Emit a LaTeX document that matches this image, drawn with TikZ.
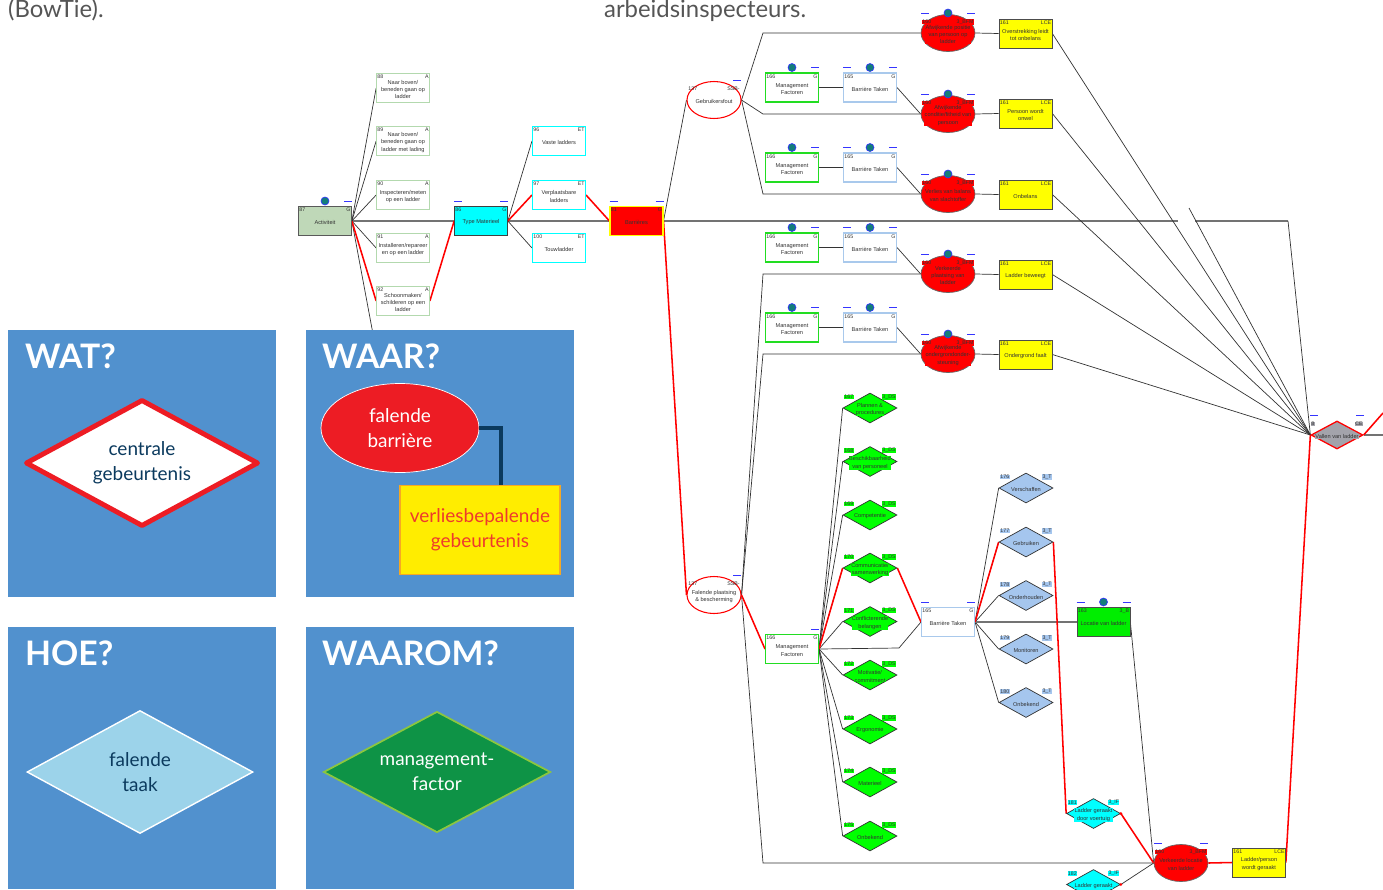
\documentclass[tikz,border=0pt]{standalone}
\usepackage{fontspec}
\setmainfont{Lato}
\newfontfamily\treefont{Liberation Sans}
\usetikzlibrary{shapes,positioning,calc,backgrounds}

\definecolor{panelblue}{HTML}{5191CE}
\definecolor{legendred}{HTML}{ED1C24}
\definecolor{legendnavy}{HTML}{0B3A5E}
\definecolor{legendyellow}{HTML}{FFED00}
\definecolor{legendorange}{HTML}{F6A823}
\definecolor{legendtext}{HTML}{EE3A2C}
\definecolor{taskblue}{HTML}{9CD3EA}
\definecolor{mfgreen}{HTML}{0E9346}
\definecolor{mfborder}{HTML}{8CC63F}
\definecolor{actgreen}{HTML}{BFD8B8}
\definecolor{subgreen}{HTML}{B3D9AE}
\definecolor{mfline}{HTML}{22DD22}
\definecolor{btblue}{HTML}{A9C9EC}
\definecolor{tdblue}{HTML}{A5C6EE}
\definecolor{dsgreen}{HTML}{00FF00}
\definecolor{locgreen}{HTML}{00EE00}
\definecolor{nodecyan}{HTML}{00FFFF}
\definecolor{nodered}{HTML}{FF0000}
\definecolor{nodeyellow}{HTML}{FFFF00}
\definecolor{dotteal}{HTML}{137D7A}
\definecolor{dashblue}{HTML}{3535FF}
\definecolor{cegray}{HTML}{A3A3AB}
\definecolor{treegray}{HTML}{333333}
\definecolor{toptext}{HTML}{555555}

% node with id tag, code tag and text
\newcommand{\btnode}[7]{%
  \node[#1] (#2) at (#3) {};
  \node[tagtext, fill=#7, anchor=west] at ($(#2.center)+(-26,-11)$) {#4};
  \node[tagtext, fill=#7, anchor=east] at ($(#2.center)+(26,-11)$) {#5};
  \node[bodytext, fill=#7] at ($(#2.center)+(0,1.5)$) {#6};
}
% blue marks above a node
\newcommand{\markL}[1]{\draw[markdash] ($(#1.center)+(-27,-20)$) -- ++(8,0);}
\newcommand{\markR}[1]{\draw[markdash] ($(#1.center)+(19,-20)$) -- ++(8,0);}
\newcommand{\markC}[1]{\node[markdot] at ($(#1.center)+(0,-20)$) {};}

\begin{document}
\begin{tikzpicture}[x=0.5mm, y=-0.5mm,
    treebox/.style={rectangle, minimum width=2.65cm, minimum height=1.45cm, inner sep=0pt, line width=1pt},
    actbox/.style={treebox, draw=black!65, fill=actgreen},
    subbox/.style={treebox, draw=subgreen, fill=white},
    typebox/.style={treebox, draw=black!75, fill=nodecyan},
    ladbox/.style={treebox, draw=nodecyan, fill=white, line width=1.5pt},
    barbox/.style={treebox, draw=nodeyellow, fill=nodered, line width=1.5pt},
    mfbox/.style={treebox, draw=mfline, fill=white, line width=1.5pt},
    btbox/.style={treebox, draw=btblue, fill=white, line width=1.5pt},
    lcebox/.style={treebox, draw=black!70, fill=nodeyellow},
    locbox/.style={treebox, draw=black!70, fill=locgreen},
    oval/.style={ellipse, minimum width=2.7cm, minimum height=1.85cm, inner sep=0pt, line width=1pt},
    bfm/.style={oval, draw=black!60, fill=nodered},
    ssb/.style={oval, draw=nodered, fill=white, line width=1.5pt},
    rhomb/.style={diamond, minimum width=2.7cm, minimum height=1.5cm, inner sep=0pt, draw=black!80, line width=1pt},
    mfdiam/.style={rhomb, fill=dsgreen},
    taskdiam/.style={rhomb, fill=tdblue},
    ifdiam/.style={rhomb, fill=nodecyan},
    cediam/.style={diamond, minimum width=2.6cm, minimum height=1.4cm, inner sep=0pt, draw=nodered, line width=1.8pt, fill=cegray},
    tagtext/.style={font=\treefont\fontsize{7.5}{8}\selectfont, text=treegray, inner sep=0.4pt},
    bodytext/.style={font=\treefont\fontsize{8}{10.3}\selectfont, text=treegray, align=center, inner sep=0.4pt},
    markdash/.style={draw=dashblue, line width=0.9pt},
    markdot/.style={circle, minimum size=4mm, inner sep=0pt, fill=dotteal, draw=blue!80, line width=0.9pt},
    connector/.style={draw=black!80, line width=1pt},
    spineline/.style={draw=black!55, line width=1.8pt},
    redlink/.style={draw=nodered, line width=2.2pt},
    reddot/.style={circle, fill=nodered, minimum size=1.6mm, inner sep=0pt},
    panel/.style={fill=panelblue},
    heading/.style={font=\bfseries\fontsize{48}{50}\selectfont, text=white, inner sep=0pt, anchor=base west},
    legendtxt/.style={font=\fontsize{27}{36}\selectfont, align=center, inner sep=0pt}
]
\useasboundingbox (0,0) rectangle (1383,889);

% Page text
\node[font=\fontsize{34}{36}\selectfont, text=toptext, anchor=base west, inner sep=0pt] (bowtie) at (8,17) {(BowTie).};
\node[font=\fontsize{34}{36}\selectfont, text=toptext, anchor=base west, inner sep=0pt] (inspect) at (604,17) {arbeidsinspecteurs.};

% Activity and equipment
\btnode{actbox}{act}{325,221}{87}{G}{Activiteit}{none}
\markC{act}\markR{act}
\btnode{subbox}{c88}{403,88}{88}{A}{Naar boven/\\beneden gaan op\\ladder}{none}
\btnode{subbox}{c89}{403,141}{89}{A}{Naar boven/\\beneden gaan op\\ladder met lading}{none}
\btnode{subbox}{c90}{403,195}{90}{A}{Inspecteren/meten\\op een ladder}{none}
\btnode{subbox}{c91}{403,248}{91}{A}{Installeren/repareer\\en op een ladder}{none}
\btnode{subbox}{c92}{403,301}{92}{A}{Schoonmaken/\\schilderen op een\\ladder}{none}

\btnode{typebox}{tm}{481,221}{86}{G}{Type Materieel}{none}
\markL{tm}\markR{tm}
\btnode{ladbox}{t96}{559,141}{96}{ET}{Vaste ladders}{none}
\btnode{ladbox}{t97}{559,195}{97}{ET}{Verplaatsbare\\ladders}{none}
\btnode{ladbox}{t100}{559,248}{100}{ET}{Touwladder}{none}

\btnode{barbox}{barr}{636.5,221}{81}{G}{Barrières}{none}
\markL{barr}\markR{barr}

% Barriers
\btnode{ssb}{gf}{714,100}{137}{SSB-}{Gebruikersfout}{none}
\markR{gf}
\btnode{ssb}{fp}{714,595}{137}{SSB-}{Falende plaatsing\\\& bescherming}{none}
\markR{fp}

\foreach \k/\y in {1/87.5, 2/167.5, 4/247.5, 5/327.5} {
  \btnode{mfbox}{mf\k}{792,\y}{166}{G}{Management\\Factoren}{none}
  \btnode{btbox}{bt\k}{870,\y}{165}{G}{Barrière Taken}{none}
  \markC{mf\k}\markR{mf\k}\markL{bt\k}\markC{bt\k}\markR{bt\k}
}

\btnode{bfm}{e1}{948,33}{160}{3\_BFM}{Afwijkende positie\\van persoon op\\ladder}{nodered}
\btnode{bfm}{e2}{948,114}{160}{3\_BFM}{Afwijkende\\conditie/fitheid van\\persoon}{nodered}
\btnode{bfm}{e3}{948,194}{160}{3\_BFM}{Verlies van balans\\van slachtoffer}{nodered}
\btnode{bfm}{e4}{948,274}{160}{3\_BFM}{Verkeerde\\plaatsing van\\ladder}{nodered}
\btnode{bfm}{e5}{948,354}{160}{3\_BFM}{Afwijkende\\ondergrondonder-\\steuning}{nodered}
\foreach \k in {1,...,5} {\markL{e\k}\markC{e\k}\markR{e\k}}

\btnode{lcebox}{y1}{1025.5,33.5}{161}{LCE}{Overstrekking leidt\\tot onbelans}{none}
\btnode{lcebox}{y2}{1025.5,113.5}{161}{LCE}{Persoon wordt\\onwel}{none}
\btnode{lcebox}{y3}{1025.5,194.5}{161}{LCE}{Onbelans}{none}
\btnode{lcebox}{y4}{1025.5,274.5}{161}{LCE}{Ladder beweegt}{none}
\btnode{lcebox}{y5}{1025.5,354.5}{161}{LCE}{Ondergrond faalt}{none}

% Management factors and tasks
\btnode{mfbox}{mf3}{792,649}{166}{G}{Management\\Factoren}{none}
\markR{mf3}
\foreach \n/\y/\t in {167/408/{Plannen \&\\procedures}, 168/461.5/{Beschikbaarheid\\van personeel},
    169/515/Competentie, 170/568/{Communicatie/\\samenwerking}, 171/621.5/{Conflicterende\\belangen},
    172/675/{Motivatie/\\commitment}, 173/729/Ergonomie, 174/782/Materieel, 175/836/Onbekend}
  {\btnode{mfdiam}{ds\n}{870,\y}{\n}{3\_DS}{\t}{dsgreen}}

\btnode{btbox}{bt3}{948,622}{165}{G}{Barrière Taken}{none}
\markL{bt3}\markR{bt3}
\foreach \n/\y/\t in {176/488/Verschaffen, 177/542/Gebruiken, 178/595.5/Onderhouden,
    179/649/Monitoren, 180/702.5/Onbekend}
  {\btnode{taskdiam}{tk\n}{1026,\y}{\n}{3\_T}{\t}{tdblue}}

\btnode{locbox}{loc}{1103.5,622}{163}{3\_B}{Locatie van ladder}{none}
\markL{loc}\markC{loc}\markR{loc}

\btnode{ifdiam}{d181}{1093.5,813.5}{181}{3\_IF}{Ladder geraakt\\door voertuig}{nodecyan}
\btnode{ifdiam}{d182}{1093.5,884.5}{182}{3\_IF}{Ladder geraakt}{nodecyan}

\btnode{bfm}{e6}{1181,863}{160}{3\_BFM}{Verkeerde locatie\\van ladder}{nodered}
\markL{e6}\markR{e6}
\btnode{lcebox}{y6}{1259,862.5}{161}{LCE}{Ladder/person\\wordt geraakt}{none}

% Central event
\btnode{cediam}{vl}{1337,435}{8}{CE}{Vallen van ladder}{cegray}
\markL{vl}\markR{vl}

% Free ends and bends
\coordinate (bendx) at (763,0);
\coordinate (hidden) at (373,334);
\coordinate (mfbend) at (899,648);
\coordinate (spineend) at (1178,221);
\coordinate (spinerest) at (1195,221);
\coordinate (spinecorner) at (1288,221);
\coordinate (strayline) at (1189,208);
\coordinate (outce) at (1383,435);
\coordinate (outred) at (1383,413);

\begin{scope}[on background layer]
% spine
\draw[spineline] (act.east) -- (tm.west);
\draw[spineline] (tm.east) -- (barr.west);
\draw[spineline] (barr.east) -- (spineend);
\draw[spineline] (spinerest) -- (spinecorner);
\draw[connector] (spinecorner) -- (vl.west);
\draw[connector] (strayline) -- (vl.west);
\draw[spineline] (vl.east) -- (outce);

% left tree
\foreach \c in {c88,c89,c90,c91} {\draw[connector] (act.east) -- (\c.west);}
\draw[connector] (act.east) -- (hidden);
\draw[connector] (tm.east) -- (t96.west);
\draw[connector] (tm.east) -- (t100.west);
\draw[connector] (barr.east) -- (gf.west);

% upper barriers
\draw[connector] (gf.east) -- (bendx |- e1.west) -- (e1.west);
\draw[connector] (gf.east) -- (bendx |- e2.west) -- (e2.west);
\draw[connector] (gf.east) -- (bendx |- e3.west) -- (e3.west);
\draw[connector] (fp.east) -- (bendx |- e4.west) -- (e4.west);
\draw[connector] (fp.east) -- (bendx |- e5.west) -- (e5.west);
\draw[connector] (fp.east) -- (bendx |- e6.west) -- (e6.west);
\foreach \k in {1,2,4,5} {\draw[connector] (mf\k.east) -- (bt\k.west);}
\draw[connector] (bt1.east) -- (e2.west);
\draw[connector] (bt2.east) -- (e3.west);
\draw[connector] (bt4.east) -- (e4.west);
\draw[connector] (bt5.east) -- (e5.west);
\foreach \k in {1,...,5} {
  \draw[connector] (e\k.east) -- (y\k.west);
  \draw[connector] (y\k.east) -- (vl.west);
}

% lower barrier
\foreach \n in {167,...,175} {\draw[connector] (mf3.east) -- (ds\n.west);}
\draw[connector] (mf3.east) -- (mfbend) -- (bt3.west);
\foreach \n in {176,...,180} {\draw[connector] (bt3.east) -- (tk\n.west);}
\draw[spineline] (bt3.east) -- (loc.west);
\draw[connector] (loc.east) -- (e6.west);
\draw[connector] (d182.east) -- (e6.west);

% failing path
\draw[redlink] (act.east) -- (c92.west);
\draw[redlink] (c92.east) -- (tm.west);
\draw[redlink] (tm.east) -- (t97.west);
\draw[redlink] (t97.east) -- (barr.west);
\draw[redlink] (barr.east) -- (fp.west);
\draw[redlink] (fp.east) -- (mf3.west);
\draw[redlink] (mf3.east) -- (ds170.west);
\draw[redlink] (ds170.east) -- (bt3.west);
\draw[redlink] (bt3.east) -- (tk177.west);
\draw[redlink] (tk177.east) -- (d181.west);
\draw[redlink] (d181.east) -- (e6.west);
\draw[redlink] (e6.east) -- (y6.west);
\draw[redlink] (y6.east) -- (vl.west);
\draw[redlink] (vl.east) -- (outred);
\end{scope}
\node[reddot] at (d181.east) {};
\node[reddot] at (d182.east) {};

% Legend panels
\fill[panel] (8,330) rectangle (276,597);
\fill[panel] (306,330) rectangle (574,597);
\fill[panel] (8,627) rectangle (276,889);
\fill[panel] (306,627) rectangle (574,889);

\node[heading] (wathead) at (25,368) {WAT?};
\node[heading] (waarhead) at (322,368) {WAAR?};
\node[heading] (hoehead) at (25,665) {HOE?};
\node[heading] (waaromhead) at (322,665) {WAAROM?};

\node[diamond, minimum width=11.65cm, minimum height=6.35cm, inner sep=0pt, fill=white, draw=legendred, line width=7pt, line join=round] (centraal) at (142,463) {};
\node[legendtxt, text=legendnavy] at (centraal.center) {centrale\\gebeurtenis};

\node[ellipse, minimum width=7.9cm, minimum height=4.45cm, inner sep=0pt, fill=legendred, draw=white, line width=1pt] (falbar) at (400,428) {};
\node[legendtxt, text=white] at (falbar.center) {falende\\barrière};
\node[rectangle, minimum width=8cm, minimum height=4.45cm, inner sep=0pt, fill=legendyellow, draw=legendorange, line width=2pt] (verlies) at (480,530) {};
\node[legendtxt, text=legendtext] at (verlies.center) {verliesbepalende\\gebeurtenis};
\draw[draw=legendnavy, line width=5.5pt] (falbar.east) -| ($(verlies.north)+(21,0)$);

\node[diamond, minimum width=11.3cm, minimum height=6.15cm, inner sep=0pt, fill=taskblue, draw=white, line width=2pt] (faltaak) at (140,772) {};
\node[legendtxt, text=legendnavy] at (faltaak.center) {falende\\taak};

\node[diamond, minimum width=11.35cm, minimum height=6.05cm, inner sep=0pt, fill=mfgreen, draw=mfborder, line width=2.5pt] (mgmt) at (437,772) {};
\node[legendtxt, text=white] at (mgmt.center) {management-\\factor};

\end{tikzpicture}
\end{document}
